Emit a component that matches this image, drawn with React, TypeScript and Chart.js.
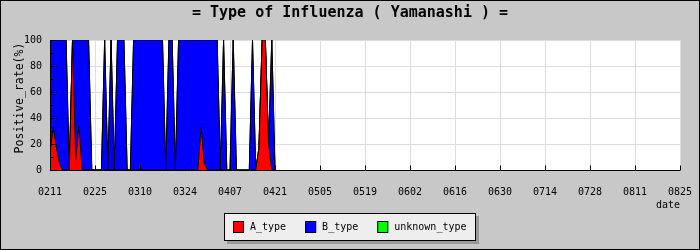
import { useEffect, useRef } from 'react';
import { Chart, registerables } from 'chart.js';

Chart.register(...registerables);

// Daily reports, 0211 .. 0421
const dates = [
  '0211', '0212', '0213', '0214', '0215', '0216', '0217', '0218', '0219', '0220',
  '0221', '0222', '0223', '0224', '0225', '0226', '0227', '0228', '0229',
  '0301', '0302', '0303', '0304', '0305', '0306', '0307', '0308', '0309', '0310',
  '0311', '0312', '0313', '0314', '0315', '0316', '0317', '0318', '0319', '0320',
  '0321', '0322', '0323', '0324', '0325', '0326', '0327', '0328', '0329', '0330', '0331',
  '0401', '0402', '0403', '0404', '0405', '0406', '0407', '0408', '0409', '0410',
  '0411', '0412', '0413', '0414', '0415', '0416', '0417', '0418', '0419', '0420', '0421',
];

// Positive rate (%) per type
const aType = [
  13, 33, 17, 4, 0, 0, 0, 100, 8, 34,
  0, 0, 0, 0, 0, 0, 0, 0, 0, 0,
  0, 0, 0, 0, 0, 0, 0, 0, 0, 0,
  0, 0, 0, 0, 0, 0, 0, 0, 0, 0,
  0, 0, 0, 0, 0, 0, 0, 33, 5, 0,
  0, 0, 0, 0, 0, 0, 0, 0, 0, 0,
  0, 0, 0, 0, 0, 17, 100, 100, 20, 0,
  0,
];
const bType = [
  87, 67, 83, 96, 100, 100, 0, 0, 92, 66,
  100, 100, 100, 0, 0, 0, 0, 100, 0, 100,
  0, 100, 100, 100, 0, 0, 100, 100, 100, 100,
  100, 100, 100, 100, 100, 100, 0, 100, 100, 0,
  100, 100, 100, 100, 100, 100, 100, 67, 95, 100,
  100, 100, 100, 0, 100, 0, 0, 100, 0, 0,
  0, 0, 0, 100, 0, 0, 0, 0, 0, 100,
  0,
];
const unknownType = dates.map(() => 0);

// Axis: one label every 14 days from 0211 to 0825
const tickLabels = [
  '0211', '0225', '0310', '0324', '0407', '0421', '0505', '0519',
  '0602', '0616', '0630', '0714', '0728', '0811', '0825',
];
const tickEvery = 14;
const axisDays = (tickLabels.length - 1) * tickEvery;

const seriesNames = ['A_type', 'B_type', 'unknown_type'];
const seriesColors = ['#ff0000', '#0000ff', '#00ff00'];

const MONO = "'DejaVu Sans Mono', 'Liberation Mono', monospace";

const toPoints = (values: number[]) => values.map((v, i) => ({ x: i, y: v }));

const decorations = {
  id: 'decorations',
  beforeDraw(chart: any) {
    const { ctx, chartArea: a, width, height } = chart;
    ctx.save();
    ctx.fillStyle = '#c8c8c8';
    ctx.fillRect(0, 0, width, height);
    ctx.fillStyle = '#ffffff';
    ctx.fillRect(a.left, a.top, a.right - a.left, a.bottom - a.top);
    ctx.restore();
  },
  afterDatasetsDraw(chart: any) {
    const { ctx, chartArea: a, scales } = chart;
    const xs = scales.x;
    const ys = scales.y;
    ctx.save();
    ctx.strokeStyle = '#000000';
    ctx.lineWidth = 1;
    ctx.beginPath();
    // axis lines
    const ax = Math.round(a.left) + 0.5;
    const ay = Math.round(a.bottom) + 0.5;
    ctx.moveTo(ax, a.top);
    ctx.lineTo(ax, ay);
    ctx.lineTo(a.right, ay);
    // inward tick marks on the value axis
    for (let v = 0; v <= 100; v += 10) {
      const y = Math.round(ys.getPixelForValue(v)) + 0.5;
      const len = v % 20 === 0 ? 6 : 3;
      ctx.moveTo(ax, y);
      ctx.lineTo(ax + len, y);
    }
    // inward tick marks on the date axis
    for (let d = 0; d <= axisDays; d += tickEvery) {
      const x = Math.round(xs.getPixelForValue(d)) + 0.5;
      ctx.moveTo(x, ay);
      ctx.lineTo(x, ay - 5);
    }
    ctx.stroke();
    ctx.restore();
  },
  afterDraw(chart: any) {
    const { ctx, width, height, chartArea: a } = chart;
    ctx.save();
    ctx.fillStyle = '#000000';
    ctx.textBaseline = 'middle';

    // title
    ctx.font = `bold 15px ${MONO}`;
    ctx.textAlign = 'center';
    ctx.fillText('= Type of Influenza ( Yamanashi ) =', width / 2, 13);

    // value axis title
    ctx.font = `11.5px ${MONO}`;
    ctx.save();
    ctx.translate(20, (a.top + a.bottom) / 2 - 7);
    ctx.rotate(-Math.PI / 2);
    ctx.fillText('Positive_rate(%)', 0, 0);
    ctx.restore();

    // date axis title
    ctx.font = `10px ${MONO}`;
    ctx.textAlign = 'right';
    ctx.fillText('date', a.right, 205);

    // legend box with drop shadow
    const lx = 224;
    const ly = 213;
    const lw = 252;
    const lh = 28;
    ctx.fillStyle = '#9a9a9a';
    ctx.fillRect(lx + 3, ly + 3, lw, lh);
    ctx.fillStyle = '#eeeeee';
    ctx.fillRect(lx, ly, lw, lh);
    ctx.strokeStyle = '#000000';
    ctx.lineWidth = 1;
    ctx.strokeRect(lx + 0.5, ly + 0.5, lw - 1, lh - 1);

    ctx.font = `10px ${MONO}`;
    ctx.textAlign = 'left';
    let x = lx + 9;
    chart.data.datasets.forEach((ds: any) => {
      ctx.fillStyle = ds.backgroundColor;
      ctx.fillRect(x, ly + 8, 11, 12);
      ctx.strokeRect(x + 0.5, ly + 8.5, 10, 11);
      ctx.fillStyle = '#000000';
      ctx.fillText(ds.label, x + 17, ly + 14.5);
      x += 17 + ctx.measureText(ds.label).width + 19;
    });

    // outer frame
    ctx.strokeStyle = '#000000';
    ctx.strokeRect(0.5, 0.5, width - 1, height - 1);
    ctx.restore();
  },
};

export default function App() {
  const canvasRef = useRef<HTMLCanvasElement | null>(null);

  useEffect(() => {
    const canvas = canvasRef.current;
    if (!canvas) return;
    const series = [aType, bType, unknownType];
    const chart = new Chart(canvas, {
      type: 'line',
      data: {
        datasets: series.map((values, i) => ({
          label: seriesNames[i],
          data: toPoints(values),
          backgroundColor: seriesColors[i],
          borderColor: '#000000',
          borderWidth: 1,
          fill: i === 0 ? 'origin' : '-1',
          pointRadius: 0,
          pointHoverRadius: 0,
          tension: 0,
        })),
      },
      options: {
        responsive: false,
        animation: false,
        devicePixelRatio: 1,
        events: [],
        layout: { padding: { left: 0, right: 20, top: 40, bottom: 50 } },
        plugins: {
          legend: { display: false },
          title: { display: false },
          tooltip: { enabled: false },
        },
        scales: {
          x: {
            type: 'linear',
            min: 0,
            max: axisDays,
            afterFit: (scale: any) => {
              scale.height = 30;
              scale.paddingLeft = 0;
              scale.paddingRight = 0;
            },
            grid: { color: '#dddddd', drawTicks: false },
            border: { display: false },
            ticks: {
              stepSize: tickEvery,
              autoSkip: false,
              maxRotation: 0,
              padding: 16,
              color: '#000000',
              font: { family: MONO, size: 10 },
              callback: (v: any) => tickLabels[Math.round(Number(v) / tickEvery)] ?? '',
            },
          },
          y: {
            stacked: true,
            min: 0,
            max: 100,
            afterFit: (scale: any) => {
              scale.width = 50;
              scale.paddingTop = 0;
              scale.paddingBottom = 0;
            },
            grid: { color: '#dddddd', drawTicks: false },
            border: { display: false },
            ticks: {
              stepSize: 20,
              padding: 8,
              color: '#000000',
              font: { family: MONO, size: 10 },
            },
          },
        },
      },
      plugins: [decorations],
    });
    return () => chart.destroy();
  }, []);

  return (
    <div style={{ position: 'fixed', left: 0, top: 0, width: 700, height: 250 }}>
      <canvas ref={canvasRef} width={700} height={250} style={{ display: 'block' }} />
    </div>
  );
}
